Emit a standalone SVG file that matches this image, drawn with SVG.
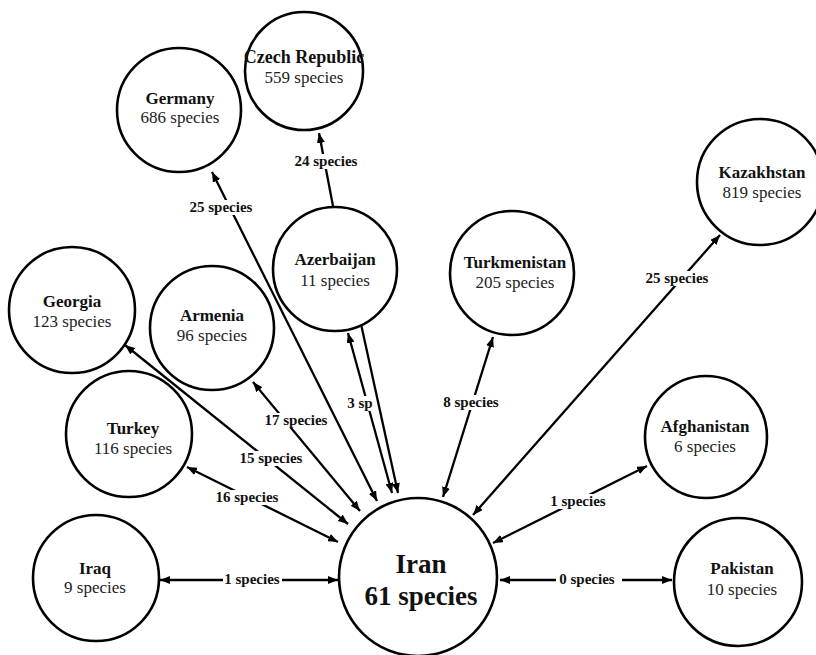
<svg xmlns="http://www.w3.org/2000/svg" width="816" height="655" viewBox="0 0 816 655">
<style>
.node circle{fill:#fff;stroke:#000;stroke-width:2.6}
.t{font-family:"Liberation Serif","Times New Roman",serif;font-weight:bold;font-size:17px;fill:#111;text-anchor:middle}
.c{font-family:"Liberation Serif","Times New Roman",serif;font-size:17px;fill:#222;text-anchor:middle}
.big{font-family:"Liberation Serif","Times New Roman",serif;font-weight:bold;font-size:27px;fill:#111;text-anchor:middle}
.e line{stroke:#000;stroke-width:2.3}
.b{marker-start:url(#ah);marker-end:url(#ah)}
.o{marker-end:url(#ah)}
.lb rect{fill:#fff}
.lb text{font-family:"Liberation Serif","Times New Roman",serif;font-weight:bold;font-size:15px;fill:#111;text-anchor:middle}
</style>
<defs>
<marker id="ah" viewBox="0 0 10 8" markerWidth="10" markerHeight="8" markerUnits="userSpaceOnUse" refX="10" refY="4" orient="auto-start-reverse">
<path d="M0,0 L10,4 L0,8 z" fill="#000"/>
</marker>
</defs>
<rect width="816" height="655" fill="#fff"/>
<g id="connectors" class="e">
<line class="b" x1="338" y1="580" x2="160" y2="580"/>
<line class="b" x1="500" y1="580" x2="672" y2="580"/>
<line class="b" x1="493" y1="543" x2="647" y2="466"/>
<line class="b" x1="473" y1="515" x2="720" y2="235"/>
<line class="b" x1="443" y1="497" x2="493" y2="337"/>
<line class="b" x1="392" y1="493" x2="348" y2="333"/>
<line class="o" x1="361" y1="324" x2="398" y2="493"/>
<line class="o" x1="333" y1="206" x2="319" y2="133"/>
<line class="b" x1="377" y1="501" x2="212" y2="172"/>
<line class="b" x1="360" y1="511" x2="253" y2="382"/>
<line class="b" x1="348" y1="524" x2="125" y2="345"/>
<line class="b" x1="338" y1="542" x2="187" y2="467"/>
<g class="lb">
<rect x="223" y="572" width="59" height="15"/><text x="252" y="584">1 species</text>
<rect x="556" y="572" width="66" height="15"/><text x="587" y="584">0 species</text>
<rect x="549" y="494" width="59" height="15"/><text x="578" y="506">1 species</text>
<rect x="644" y="271" width="67" height="15"/><text x="677" y="283">25 species</text>
<rect x="441" y="395" width="60" height="15"/><text x="471" y="407">8 species</text>
<rect x="346" y="396" width="28" height="15"/><text x="360" y="408">3 sp</text>
<rect x="293" y="154" width="67" height="15"/><text x="326" y="166">24 species</text>
<rect x="188" y="200" width="67" height="15"/><text x="221" y="212">25 species</text>
<rect x="263" y="413" width="67" height="15"/><text x="296" y="425">17 species</text>
<rect x="238" y="451" width="67" height="15"/><text x="271" y="463">15 species</text>
<rect x="214" y="490" width="67" height="15"/><text x="247" y="502">16 species</text>
</g>
</g>
<g id="czech" class="node"><circle cx="304" cy="71" r="59"/><text class="t" x="304" y="63" style="font-size:18px">Czech Republic</text><text class="c" x="304" y="83">559 species</text></g>
<g id="germany" class="node"><circle cx="179" cy="110" r="62"/><text class="t" x="180" y="104">Germany</text><text class="c" x="180" y="123">686 species</text></g>
<g id="azerbaijan" class="node"><circle cx="335" cy="269" r="62"/><text class="t" x="335" y="265">Azerbaijan</text><text class="c" x="335" y="286">11 species</text></g>
<g id="turkmenistan" class="node"><circle cx="512" cy="273" r="62"/><text class="t" x="515" y="268">Turkmenistan</text><text class="c" x="515" y="288">205 species</text></g>
<g id="kazakhstan" class="node"><circle cx="760" cy="182" r="63"/><text class="t" x="762" y="178">Kazakhstan</text><text class="c" x="762" y="198">819 species</text></g>
<g id="georgia" class="node"><circle cx="72" cy="310" r="63"/><text class="t" x="72" y="307">Georgia</text><text class="c" x="72" y="327">123 species</text></g>
<g id="armenia" class="node"><circle cx="212" cy="328" r="62"/><text class="t" x="212" y="321">Armenia</text><text class="c" x="212" y="341">96 species</text></g>
<g id="turkey" class="node"><circle cx="129" cy="434" r="63"/><text class="t" x="133" y="434">Turkey</text><text class="c" x="133" y="454">116 species</text></g>
<g id="afghanistan" class="node"><circle cx="706" cy="437" r="61"/><text class="t" x="705" y="432">Afghanistan</text><text class="c" x="705" y="452">6 species</text></g>
<g id="iraq" class="node"><circle cx="96" cy="578" r="63"/><text class="t" x="95" y="574">Iraq</text><text class="c" x="95" y="593">9 species</text></g>
<g id="iran" class="node"><circle cx="418" cy="577" r="79"/><text class="big" x="421" y="573">Iran</text><text class="big" x="421" y="605">61 species</text></g>
<g id="pakistan" class="node"><circle cx="738" cy="582" r="64"/><text class="t" x="742" y="574">Pakistan</text><text class="c" x="742" y="595">10 species</text></g>
</svg>
